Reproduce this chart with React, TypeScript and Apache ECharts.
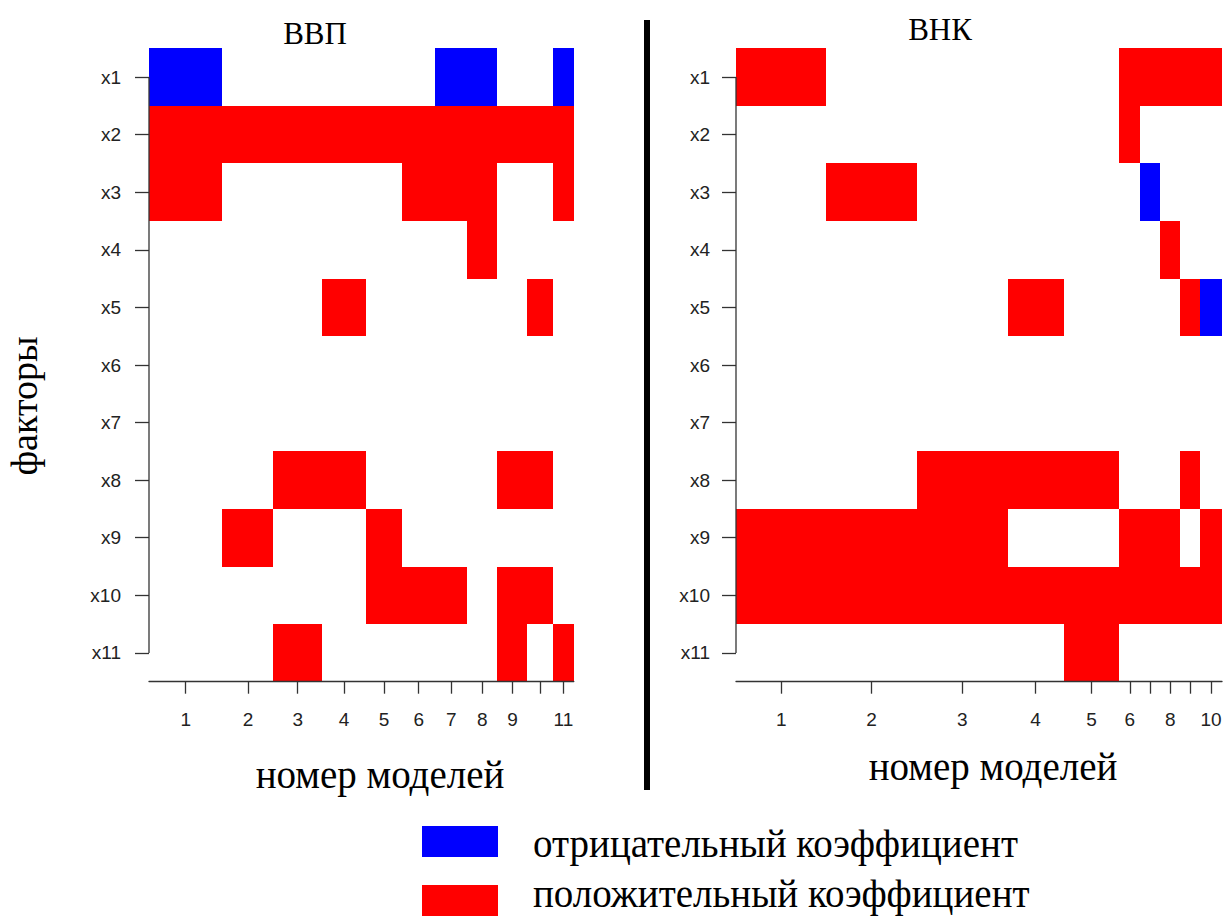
import React, { useEffect, useRef } from "react";
import * as echarts from "echarts";

// ---------- data ----------
const factors = ["x1", "x2", "x3", "x4", "x5", "x6", "x7", "x8", "x9", "x10", "x11"];

const titleGDP = "ВВП";
const titleGNI = "ВНК";
const xAxisName = "номер моделей";
const yAxisName = "факторы";
const legendNeg = "отрицательный коэффициент";
const legendPos = "положительный коэффициент";

// posterior model probabilities (column widths)
const probGDP = [0.173, 0.12, 0.114, 0.104, 0.085, 0.078, 0.075, 0.071, 0.071, 0.06, 0.049];
const tickLabelsGDP = ["1", "2", "3", "4", "5", "6", "7", "8", "9", "", "11"];
// rows x1..x11, columns models 1..11 ; 1 = positive, -1 = negative, 0 = not included
const signsGDP = [
  [-1, 0, 0, 0, 0, 0, -1, -1, 0, 0, -1],
  [1, 1, 1, 1, 1, 1, 1, 1, 1, 1, 1],
  [1, 0, 0, 0, 0, 1, 1, 1, 0, 0, 1],
  [0, 0, 0, 0, 0, 0, 0, 1, 0, 0, 0],
  [0, 0, 0, 1, 0, 0, 0, 0, 0, 1, 0],
  [0, 0, 0, 0, 0, 0, 0, 0, 0, 0, 0],
  [0, 0, 0, 0, 0, 0, 0, 0, 0, 0, 0],
  [0, 0, 1, 1, 0, 0, 0, 0, 1, 1, 0],
  [0, 1, 0, 0, 1, 0, 0, 0, 0, 0, 0],
  [0, 0, 0, 0, 1, 1, 1, 0, 1, 1, 0],
  [0, 0, 1, 0, 0, 0, 0, 0, 1, 0, 1],
];

const probGNI = [0.186, 0.186, 0.187, 0.115, 0.115, 0.043, 0.041, 0.041, 0.041, 0.045];
const tickLabelsGNI = ["1", "2", "3", "4", "5", "6", "", "8", "", "10"];
const signsGNI = [
  [1, 0, 0, 0, 0, 1, 1, 1, 1, 1],
  [0, 0, 0, 0, 0, 1, 0, 0, 0, 0],
  [0, 1, 0, 0, 0, 0, -1, 0, 0, 0],
  [0, 0, 0, 0, 0, 0, 0, 1, 0, 0],
  [0, 0, 0, 1, 0, 0, 0, 0, 1, -1],
  [0, 0, 0, 0, 0, 0, 0, 0, 0, 0],
  [0, 0, 0, 0, 0, 0, 0, 0, 0, 0],
  [0, 0, 1, 1, 1, 0, 0, 0, 1, 0],
  [1, 1, 1, 0, 0, 1, 1, 1, 0, 1],
  [1, 1, 1, 1, 1, 1, 1, 1, 1, 1],
  [0, 0, 0, 0, 1, 0, 0, 0, 0, 0],
];

const RED = "#ff0000";
const BLUE = "#0000ff";
const AXIS = "#333333";
const SERIF = "'Liberation Serif', 'Times New Roman', serif";
const SANS = "'Liberation Sans', Arial, sans-serif";

function boundaries(prob: number[]) {
  const b = [0];
  prob.forEach((p) => b.push(b[b.length - 1] + p));
  return b;
}

function buildCells(prob: number[], signs: number[][]) {
  const b = boundaries(prob);
  const cells: number[][] = [];
  signs.forEach((row, r) => {
    row.forEach((s, c) => {
      if (s !== 0) cells.push([b[c], b[c + 1], r, s]);
    });
  });
  return cells;
}

function centers(prob: number[]) {
  const b = boundaries(prob);
  return prob.map((_, i) => (b[i] + b[i + 1]) / 2);
}

const rowCenters = factors.map((_, i) => i + 0.5);

function makeAxes(g: number, prob: number[], labels: string[], total: number, yMargin: number) {
  const cs = centers(prob);
  const labelVals = cs.filter((_, i) => labels[i] !== "");
  const xAxis = {
    type: "value",
    gridIndex: g,
    min: 0,
    max: total,
    z: 5,
    axisLine: { show: true, onZero: false, lineStyle: { color: AXIS, width: 1.3 } },
    axisTick: { show: true, customValues: cs, length: 12, lineStyle: { color: AXIS, width: 1.3 } },
    axisLabel: {
      customValues: labelVals,
      margin: 28,
      fontSize: 19,
      fontFamily: SANS,
      color: "#222",
      formatter: (v: number) => {
        let best = 0;
        cs.forEach((c, i) => {
          if (Math.abs(c - v) < Math.abs(cs[best] - v)) best = i;
        });
        return labels[best];
      },
    },
    splitLine: { show: false },
  };
  const yAxis = {
    type: "value",
    gridIndex: g,
    min: 0,
    max: factors.length,
    inverse: true,
    axisLine: { show: false, onZero: false },
    axisTick: { show: true, customValues: rowCenters, length: 14, lineStyle: { color: AXIS, width: 1.3 } },
    axisLabel: {
      customValues: rowCenters,
      margin: yMargin,
      fontSize: 19,
      fontFamily: SANS,
      color: "#222",
      formatter: (v: number) => factors[Math.floor(v)],
    },
    splitLine: { show: false },
  };
  return { xAxis, yAxis };
}

function cellSeries(g: number, prob: number[], signs: number[][]) {
  return {
    type: "custom",
    xAxisIndex: g,
    yAxisIndex: g,
    encode: { x: [0, 1], y: 2 },
    data: buildCells(prob, signs),
    renderItem: (_p: any, api: any) => {
      const x0 = api.value(0);
      const x1 = api.value(1);
      const r = api.value(2);
      const s = api.value(3);
      const p0 = api.coord([x0, r]);
      const p1 = api.coord([x1, r + 1]);
      const color = s > 0 ? RED : BLUE;
      const left = Math.round(p0[0]);
      const right = Math.round(p1[0]);
      const top = Math.round(Math.min(p0[1], p1[1]));
      const bottom = Math.round(Math.max(p0[1], p1[1]));
      return {
        type: "rect",
        shape: { x: left, y: top, width: right - left, height: bottom - top },
        style: { fill: color },
      };
    },
    silent: true,
  };
}

function yLineSeries(g: number) {
  return {
    type: "custom",
    xAxisIndex: g,
    yAxisIndex: g,
    encode: { x: 0, y: [1, 2] },
    data: [[0, rowCenters[0], rowCenters[rowCenters.length - 1]]],
    z: 6,
    renderItem: (_p: any, api: any) => {
      const a = api.coord([api.value(0), api.value(1)]);
      const b = api.coord([api.value(0), api.value(2)]);
      return {
        type: "line",
        shape: { x1: a[0], y1: a[1], x2: b[0], y2: b[1] },
        style: { stroke: AXIS, lineWidth: 1.3 },
      };
    },
    silent: true,
  };
}

export default function App() {
  const ref = useRef<HTMLDivElement>(null);

  useEffect(() => {
    if (!ref.current) return;
    const chart = echarts.init(ref.current, undefined, { renderer: "svg" });
    const totalGDP = boundaries(probGDP)[probGDP.length];
    const totalGNI = boundaries(probGNI)[probGNI.length];
    const a0 = makeAxes(0, probGDP, tickLabelsGDP, totalGDP, 28);
    const a1 = makeAxes(1, probGNI, tickLabelsGNI, totalGNI, 26);

    const option: any = {
      animation: false,
      backgroundColor: "#ffffff",
      grid: [
        { left: 149, top: 48.3, width: 424.8, height: 633.4 },
        { left: 736, top: 48.3, width: 486, height: 633.4 },
      ],
      xAxis: [a0.xAxis, a1.xAxis],
      yAxis: [a0.yAxis, a1.yAxis],
      series: [cellSeries(0, probGDP, signsGDP), cellSeries(1, probGNI, signsGNI), yLineSeries(0), yLineSeries(1)],
      graphic: [
        {
          type: "text",
          x: 315,
          y: 33,
          style: { text: titleGDP, fontSize: 31, fontFamily: SERIF, fill: "#000", align: "center", verticalAlign: "middle" },
        },
        {
          type: "text",
          x: 940,
          y: 29,
          style: { text: titleGNI, fontSize: 31, fontFamily: SERIF, fill: "#000", align: "center", verticalAlign: "middle" },
        },
        {
          type: "text",
          x: 380,
          y: 774,
          style: { text: xAxisName, fontSize: 39, fontFamily: SERIF, fill: "#000", align: "center", verticalAlign: "middle" },
        },
        {
          type: "text",
          x: 993,
          y: 766,
          style: { text: xAxisName, fontSize: 39, fontFamily: SERIF, fill: "#000", align: "center", verticalAlign: "middle" },
        },
        {
          type: "text",
          x: 24,
          y: 406,
          rotation: Math.PI / 2,
          style: { text: yAxisName, fontSize: 38, fontFamily: SERIF, fill: "#000", align: "center", verticalAlign: "middle" },
        },
        {
          type: "line",
          shape: { x1: 647, y1: 20, x2: 647, y2: 790 },
          style: { stroke: "#000", lineWidth: 6 },
        },
        { type: "rect", shape: { x: 422, y: 826, width: 76, height: 31 }, style: { fill: BLUE } },
        { type: "rect", shape: { x: 422, y: 885, width: 76, height: 31 }, style: { fill: RED } },
        {
          type: "text",
          x: 533,
          y: 843,
          style: { text: legendNeg, fontSize: 39, fontFamily: SERIF, fill: "#000", align: "left", verticalAlign: "middle" },
        },
        {
          type: "text",
          x: 533,
          y: 893,
          style: { text: legendPos, fontSize: 39, fontFamily: SERIF, fill: "#000", align: "left", verticalAlign: "middle" },
        },
      ],
    };
    chart.setOption(option);
    return () => chart.dispose();
  }, []);

  return (
    <div
      ref={ref}
      style={{ position: "fixed", left: 0, top: 0, width: 1228, height: 916, background: "#fff" }}
    />
  );
}
